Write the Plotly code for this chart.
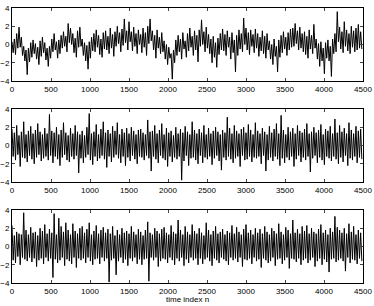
import numpy as np
import plotly.graph_objects as go

# Values (one value per 15 samples, alternating
# between the local upper and lower extremes of the trace)
series1 = [
    0.3, -0.9, 0.6, -1.1, 1.2, -0.4, 1.9, -0.3, 0.8, -1.2,
    -0.2, -1.8, -0.6, -3.3, -0.4, -1.9, 0.2, -1.4, 0.5, -1.0,
    0.1, -1.6, -0.3, -2.2, 0.4, -1.3, 0.8, -0.9, 0.2, -1.7,
    -0.4, -2.4, -0.2, -1.5, 0.6, -0.8, 1.2, -0.6, 0.3, -1.5,
    0.5, -1.0, 1.0, -0.4, 1.4, -0.2, 0.9, -0.8, 2.3, 0.2,
    1.8, 0.0, 1.2, -0.9, 0.7, -1.4, 1.5, -0.3, 1.9, -0.2,
    0.6, -1.2, 0.2, -1.8, -0.1, -2.7, 0.3, -1.5, 0.8, -0.7,
    1.2, -0.8, 1.6, -0.3, 1.0, -1.1, 0.6, -1.4, 1.3, -0.5,
    1.5, -0.6, 0.9, -1.0, 1.8, -0.4, 1.1, -1.3, 1.4, -0.2,
    2.0, 0.1, 1.3, -0.8, 1.7, -0.1, 2.8, 0.2, 1.5, -0.6,
    2.5, 0.3, 1.4, -0.7, 1.9, -0.2, 1.2, -1.0, 1.6, 0.0,
    1.1, -0.9, 1.8, -0.3, 1.3, -1.2, 2.0, 0.1, 2.8, 0.4,
    1.5, -0.6, 1.0, -1.5, 1.6, -0.4, 0.8, -1.0, 1.3, -0.8,
    0.4, -1.6, 0.0, -2.2, -0.3, -1.5, -1.0, -3.8, -0.6, -2.0,
    0.5, -1.2, 1.0, -0.8, 0.6, -1.6, 1.3, -0.5, 0.4, -1.4,
    1.2, -0.7, 1.8, -0.3, 0.9, -1.2, 1.5, -0.6, 1.0, -1.9,
    1.6, -0.2, 2.7, 0.0, 1.4, -0.8, 1.9, -0.4, 1.1, -1.0,
    0.6, -2.0, 0.9, -1.4, 0.2, -2.5, 0.7, -1.1, 1.2, -0.6,
    1.7, -0.7, 1.1, -1.2, 1.5, -0.3, 0.8, -1.6, 1.3, -0.9,
    0.5, -3.0, 1.0, -1.2, 1.6, -0.5, 1.2, -0.8, 2.9, 0.0,
    1.8, -0.6, 1.3, -1.1, 1.6, -0.2, 1.1, -0.9, 1.7, -0.4,
    1.2, -1.3, 0.8, -0.7, 1.5, -1.0, 0.9, -1.5, 1.2, -0.6,
    0.4, -1.6, 0.0, -2.2, 0.6, -1.3, -0.2, -3.0, 0.5, -1.4,
    1.0, -0.9, 1.4, -0.5, 0.8, -1.2, 1.3, -0.6, 1.7, -0.3,
    1.8, -0.2, 2.3, 0.1, 1.5, -0.6, 1.9, -0.4, 1.2, -0.8,
    1.4, -1.1, 0.9, -1.5, 1.6, -0.5, 1.0, -1.0, 2.2, -0.4,
    0.6, -1.6, 0.1, -2.4, 0.3, -1.8, -0.4, -3.2, 0.2, -1.5,
    0.5, -1.8, -0.2, -3.5, 0.6, -1.0, 1.2, -0.8, 3.6, 0.3,
    1.9, -0.5, 1.4, -0.9, 2.5, -0.2, 1.6, -0.7, 1.2, -1.0,
    2.0, -0.3, 1.5, -0.8, 1.8, -0.6, 2.2, -0.4, 1.4, -0.5,
]
series2 = [
    1.8, -1.2, 1.4, -1.6, 2.2, -1.0, 1.1, -2.3, 1.5, -1.3,
    2.6, -1.4, 1.2, -1.8, 1.6, -1.1, 2.1, -1.5, 1.3, -2.0,
    1.7, -1.3, 2.4, -1.0, 1.5, -1.7, 1.2, -1.4, 1.9, -1.2,
    1.3, -1.6, 3.4, -1.1, 1.6, -1.9, 1.4, -1.2, 2.0, -1.5,
    1.2, -2.2, 1.7, -1.3, 2.5, -1.0, 1.4, -1.6, 1.1, -1.8,
    1.9, -1.2, 1.3, -1.5, 2.2, -1.1, 1.5, -3.0, 1.2, -1.4,
    1.6, -1.9, 1.1, -1.3, 2.0, -1.0, 3.5, -1.6, 1.3, -2.1,
    1.5, -1.2, 2.3, -1.7, 1.2, -1.4, 1.8, -1.1, 2.6, -1.5,
    1.4, -2.4, 1.7, -1.2, 1.3, -1.8, 2.1, -1.3, 1.6, -1.0,
    2.5, -1.4, 1.2, -1.9, 1.8, -1.2, 1.4, -2.2, 1.9, -1.3,
    1.3, -1.7, 2.0, -1.1, 1.6, -1.5, 1.2, -2.0, 1.7, -1.2,
    1.8, -1.3, 1.4, -1.6, 1.2, -1.1, 2.8, -1.4, 1.5, -2.8,
    1.6, -1.2, 2.2, -1.5, 1.3, -1.9, 1.7, -1.1, 2.4, -1.4,
    1.2, -1.6, 1.9, -2.3, 1.4, -1.2, 1.6, -1.8, 1.1, -1.3,
    2.0, -1.5, 1.3, -1.2, 1.8, -3.8, 1.4, -1.7, 2.1, -1.1,
    1.5, -2.2, 1.2, -1.4, 2.6, -1.3, 1.7, -1.6, 1.3, -2.0,
    1.8, -1.1, 1.4, -1.9, 2.2, -1.3, 1.2, -1.5, 1.9, -1.2,
    1.3, -2.1, 1.6, -1.4, 2.0, -1.1, 1.5, -1.7, 1.2, -2.7,
    1.7, -1.3, 1.4, -1.6, 3.1, -1.2, 1.9, -1.5, 1.3, -1.9,
    2.2, -1.4, 1.6, -1.2, 1.3, -2.3, 1.8, -1.1, 2.0, -1.6,
    1.4, -1.5, 2.3, -1.2, 1.7, -1.8, 1.2, -1.3, 2.5, -1.4,
    1.6, -1.2, 1.3, -2.0, 1.9, -1.1, 1.5, -2.8, 1.2, -1.6,
    2.1, -1.3, 1.4, -1.7, 1.8, -1.2, 2.4, -1.5, 1.3, -2.2,
    3.3, -1.4, 1.7, -1.9, 1.2, -1.3, 2.0, -1.6, 1.5, -1.2,
    1.9, -2.3, 1.3, -1.5, 2.2, -1.1, 1.6, -1.8, 1.4, -1.3,
    1.8, -1.6, 2.4, -1.2, 1.3, -2.9, 1.5, -1.4, 2.0, -1.1,
    1.4, -1.9, 1.7, -1.3, 2.3, -1.6, 1.2, -2.1, 1.8, -1.2,
    1.6, -1.4, 2.1, -1.7, 1.3, -1.2, 2.9, -1.5, 1.4, -2.0,
    2.2, -1.3, 1.5, -1.8, 1.9, -1.1, 1.3, -2.2, 2.5, -1.4,
    1.7, -1.6, 1.3, -1.2, 2.1, -1.9, 1.6, -1.3, 1.8, -1.5,
]
series3 = [
    2.3, -1.5, 1.2, -1.8, 1.6, -1.1, 1.4, -2.0, 1.3, -1.2,
    3.7, -1.4, 1.8, -1.6, 1.3, -1.2, 2.1, -1.7, 1.5, -1.3,
    1.6, -2.2, 1.2, -1.5, 2.0, -1.3, 1.7, -1.9, 2.4, -1.2,
    1.4, -1.6, 1.9, -1.3, 1.5, -3.4, 3.6, -1.4, 1.3, -1.8,
    3.1, -1.5, 2.2, -1.2, 1.6, -2.1, 2.6, -1.4, 1.8, -1.6,
    1.3, -1.9, 2.5, -1.2, 1.7, -2.3, 1.4, -1.3, 2.0, -1.5,
    2.2, -1.3, 1.5, -1.8, 1.9, -1.2, 2.6, -1.6, 1.3, -2.0,
    1.7, -1.4, 2.3, -1.3, 1.4, -1.9, 1.8, -1.2, 2.1, -1.6,
    1.5, -1.3, 1.9, -3.9, 1.4, -1.5, 2.2, -1.3, 1.2, -3.1,
    1.8, -1.6, 1.3, -1.2, 2.0, -1.8, 1.5, -1.4, 1.7, -2.1,
    1.4, -1.3, 2.2, -1.6, 1.6, -1.2, 1.3, -1.9, 1.9, -1.4,
    1.6, -2.0, 1.2, -1.4, 1.8, -1.3, 2.7, -3.8, 1.5, -1.2,
    1.3, -1.5, 2.0, -1.2, 1.7, -2.2, 1.4, -1.6, 1.9, -1.3,
    2.1, -1.4, 1.5, -1.8, 1.3, -1.2, 2.3, -1.5, 1.6, -2.0,
    1.4, -1.3, 2.9, -1.6, 1.8, -1.2, 1.3, -2.1, 2.2, -1.4,
    1.6, -1.8, 1.3, -1.2, 2.4, -1.5, 1.7, -1.3, 1.4, -2.0,
    2.0, -1.3, 1.5, -1.9, 1.2, -1.4, 2.6, -1.2, 1.8, -1.6,
    1.3, -2.1, 1.7, -1.3, 2.2, -1.5, 1.4, -1.8, 1.6, -1.2,
    1.9, -1.4, 1.3, -1.6, 1.7, -2.0, 1.5, -1.2, 2.3, -1.5,
    1.4, -1.3, 2.1, -1.7, 1.6, -1.2, 1.3, -2.2, 1.9, -1.4,
    2.4, -1.5, 1.5, -1.3, 1.8, -1.9, 1.3, -1.2, 2.0, -1.6,
    1.5, -1.4, 1.9, -2.3, 1.4, -1.3, 2.2, -1.5, 1.6, -1.8,
    1.3, -1.6, 2.0, -1.2, 1.7, -2.1, 1.4, -1.4, 2.5, -1.3,
    1.6, -1.9, 1.3, -1.5, 2.1, -1.2, 1.8, -2.4, 1.4, -1.3,
    2.9, -1.4, 1.5, -1.7, 1.9, -1.3, 1.4, -2.0, 2.2, -1.5,
    1.7, -1.3, 2.3, -1.8, 1.4, -1.5, 2.0, -1.2, 1.6, -2.2,
    1.4, -1.6, 1.9, -1.3, 2.4, -2.0, 1.5, -1.4, 1.8, -1.7,
    1.3, -2.8, 2.0, -1.4, 1.6, -1.3, 3.3, -1.7, 2.1, -1.5,
    1.8, -1.3, 1.5, -1.6, 2.0, -2.7, 1.4, -1.2, 2.5, -1.8,
    1.6, -1.4, 2.2, -1.5, 1.3, -1.9, 1.8, -1.3, 1.5, -1.6,
]
x_ticks = [0, 500, 1000, 1500, 2000, 2500, 3000, 3500, 4000, 4500]
y_ticks = [-4, -2, 0, 2, 4]
x_title = "time index n"
n_max = 4500

W, H = 374, 306
ML, MR, MT, MB = 12, 11, 8, 23
ph = H - MT - MB
# subplot pixel rows (top, bottom) in the figure
rows_px = [(8, 81), (109, 182), (210, 283)]
domains = [(1 - (b - MT) / ph, 1 - (t - MT) / ph) for t, b in rows_px]

fig = go.Figure()
for k, s in enumerate([series1, series2, series3]):
    n = np.linspace(0, n_max, len(s), endpoint=False)
    sfx = "" if k == 0 else str(k + 1)
    fig.add_trace(go.Scatter(x=n, y=s, mode="lines",
                             line=dict(color="black", width=1.0),
                             xaxis="x" + sfx, yaxis="y" + sfx,
                             showlegend=False, hoverinfo="skip"))
    ax = dict(range=[0, n_max], tickvals=x_ticks, ticks="inside", ticklen=3,
              showline=True, linecolor="black", linewidth=1, mirror="ticks",
              showgrid=False, zeroline=False, automargin=False,
              ticklabeloverflow="allow",
              tickfont=dict(size=8, color="black"), anchor="y" + sfx)
    ay = dict(range=[-4, 4], tickvals=y_ticks, ticks="inside", ticklen=3,
              showline=True, linecolor="black", linewidth=1, mirror="ticks",
              showgrid=False, zeroline=False, automargin=False,
              domain=[max(0, domains[k][0]), min(1, domains[k][1])],
              ticklabeloverflow="allow",
              tickfont=dict(size=8, color="black"), anchor="x" + sfx)
    fig.update_layout(**{"xaxis" + sfx: ax, "yaxis" + sfx: ay})

fig.add_annotation(text=x_title, xref="paper", yref="paper", x=0.5, y=0,
                   yshift=-10, yanchor="top", showarrow=False,
                   font=dict(size=8, color="black"))

fig.update_layout(width=W, height=H,
                  margin=dict(l=ML, r=MR, t=MT, b=MB),
                  paper_bgcolor="white", plot_bgcolor="white",
                  font=dict(family="Liberation Sans, Arial, sans-serif", size=8))
fig.write_html("out.html", config={"displayModeBar": False},
               post_script="document.body.style.margin='0';")
